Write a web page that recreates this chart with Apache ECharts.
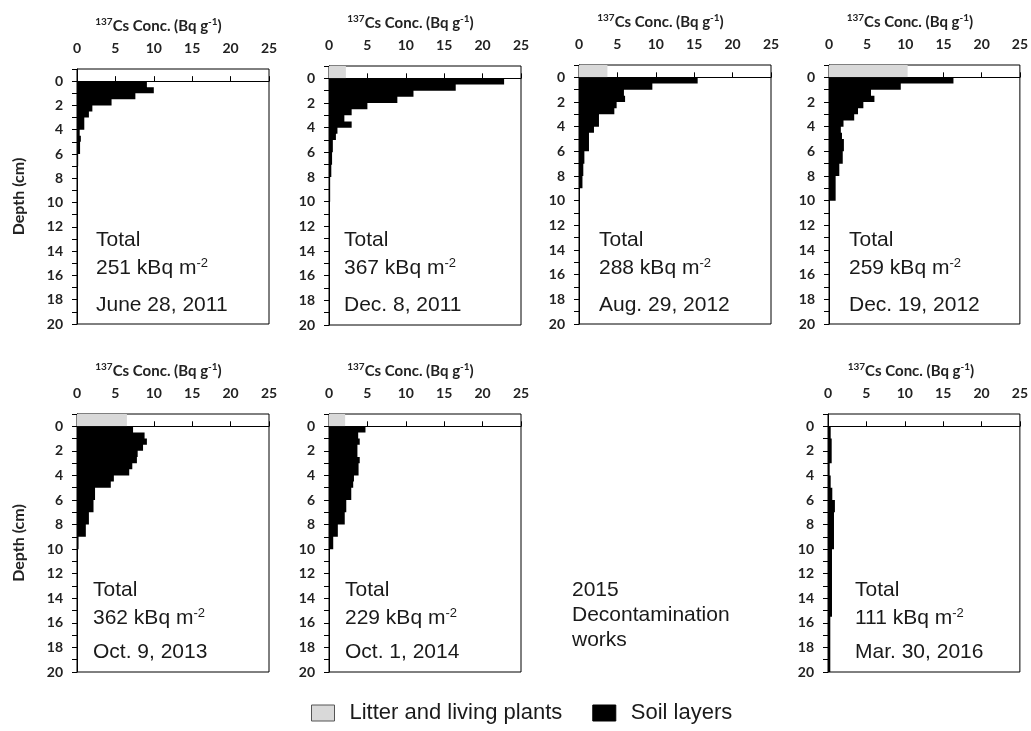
<!DOCTYPE html>
<html><head><meta charset="utf-8">
<script src="https://cdn.jsdelivr.net/npm/echarts@6/dist/echarts.min.js"></script>
<style>html,body{margin:0;padding:0;background:#fff;}#c{width:1031px;height:731px;}</style>
</head><body><div id="c"></div>
<script>
// ---------------- data ----------------
const panelDates  = ['June 28, 2011', 'Dec. 8, 2011', 'Aug. 29, 2012', 'Dec. 19, 2012', 'Oct. 9, 2013', 'Oct. 1, 2014', 'Mar. 30, 2016'];
const panelTotals = [251, 367, 288, 259, 362, 229, 111];           // kBq m-2
const litterConc  = [0, 2.2, 3.7, 10.3, 6.5, 2.1, 0];              // Bq g-1, layer -1..0 cm
// soil layers: [top depth (cm), bottom depth (cm), 137Cs conc (Bq g-1)]
const soilJun2011 = [[0,0.5,9.1],[0.5,1,10.0],[1,1.5,7.6],[1.5,2,4.5],[2,2.5,2.0],[2.5,3,1.55],[3,4,0.95],[4,4.5,0.35],[4.5,5,0.5],[5,6,0.4],[6,7,0.15],[7,10,0.1]];
const soilDec2011 = [[0,0.5,22.8],[0.5,1,16.5],[1,1.5,11.0],[1.5,2,8.9],[2,2.5,5.0],[2.5,3,2.95],[3,3.5,2.0],[3.5,4,2.95],[4,4.5,1.1],[4.5,5,0.9],[5,6,0.5],[6,7,0.4],[7,8,0.3],[8,10,0.15]];
const soilAug2012 = [[0,0.5,15.45],[0.5,1,9.55],[1,1.5,5.85],[1.5,2,6.0],[2,2.5,4.9],[2.5,3,4.6],[3,4,2.6],[4,4.5,1.95],[4.5,5,1.3],[5,6,1.3],[6,7,0.7],[7,8,0.56],[8,9,0.45]];
const soilDec2012 = [[0,0.5,16.3],[0.5,1,9.4],[1,1.5,5.5],[1.5,2,5.95],[2,2.5,4.5],[2.5,3,3.8],[3,3.5,3.3],[3.5,4,1.9],[4,4.5,1.55],[4.5,5,1.7],[5,6,1.95],[6,7,1.8],[7,8,1.35],[8,9,0.87],[9,10,0.87]];
const soilOct2013 = [[0,0.5,7.3],[0.5,1,8.8],[1,1.5,9.1],[1.5,2,8.6],[2,2.5,7.9],[2.5,3,7.8],[3,3.5,7.2],[3.5,4,6.8],[4,4.5,4.8],[4.5,5,4.4],[5,6,2.35],[6,7,2.15],[7,8,1.55],[8,9,1.15],[9,10,0.2]];
const soilOct2014 = [[0,0.5,4.75],[0.5,1,3.8],[1,1.5,4.0],[1.5,2,3.7],[2,2.5,3.7],[2.5,3,4.0],[3,3.5,3.85],[3.5,4,3.85],[4,4.5,3.25],[4.5,5,3.15],[5,6,2.9],[6,7,2.25],[7,8,2.05],[8,9,1.15],[9,10,0.55],[10,15,0.1]];
const soilMar2016 = [[0,1,0.35],[1,3,0.48],[3,4,0.22],[4,5,0.35],[5,6,0.56],[6,7,0.9],[7,10,0.78],[10,15.5,0.52],[15.5,20,0.3]];
const soilProfiles = [soilJun2011, soilDec2011, soilAug2012, soilDec2012, soilOct2013, soilOct2014, soilMar2016];
const concMin = 0, concMax = 25, concStep = 5;
const depthMin = -1, depthMax = 20, depthStep = 1, depthLabelStep = 2;
const noteLines = ['2015', 'Decontamination', 'works'];
const seriesNames = ['Litter and living plants', 'Soil layers'];

// ---------------- layout ----------------
const grids = [
  {left: 77,  top: 69, width: 192, height: 255},
  {left: 329, top: 66, width: 192, height: 259},
  {left: 579, top: 65, width: 192, height: 259},
  {left: 829, top: 65, width: 192, height: 259},
  {left: 77,  top: 414, width: 192, height: 258},
  {left: 329, top: 414, width: 192, height: 258},
  {left: 828, top: 414, width: 193, height: 258}
];
const textLeft = [96, 344, 599, 849, 93, 345, 855];
const textRowY = [[241, 268, 306], [591, 618, 653]];
const AX_FONT = 'Lato';
const TXT_FONT = 'Liberation Sans';
const AX_COLOR = '#222';

// draws the whole stepped depth profile (contiguous layers) as one polygon
function renderProfile(params, api) {
  if (params.dataIndexInside !== 0) return null;
  const n = params.dataInsideLength;
  const pts = [api.coord([0, api.value(0, 0)])];
  for (let k = 0; k < n; k++) {
    const t = api.value(0, k), b = api.value(1, k), v = api.value(2, k);
    pts.push(api.coord([v, t]));
    pts.push(api.coord([v, b]));
  }
  pts.push(api.coord([0, api.value(1, n - 1)]));
  return {type: 'polygon', shape: {points: pts}, style: {fill: api.visual('color')}};
}

const option = {
  animation: false,
  backgroundColor: '#fff',
  grid: [], xAxis: [], yAxis: [], series: [], graphic: [],
  legend: {
    left: 306, top: 697, itemWidth: 23, itemHeight: 16, itemGap: 30,
    textStyle: {fontFamily: TXT_FONT, fontSize: 22, color: '#1a1a1a', padding: [0, 0, 0, 10]},
    data: [
      {name: seriesNames[0], icon: 'rect', itemStyle: {color: '#d9d9d9', borderColor: '#555', borderWidth: 1}},
      {name: seriesNames[1], icon: 'rect', itemStyle: {color: '#000', borderColor: '#000', borderWidth: 1}}
    ]
  }
};

grids.forEach((g, i) => {
  option.grid.push(Object.assign({show: true, borderColor: '#000', borderWidth: 1, backgroundColor: 'transparent'}, g));
  option.xAxis.push({
    type: 'value', gridIndex: i, position: 'top', min: concMin, max: concMax, interval: concStep,
    name: '{s|137}{b|Cs Conc. (Bq g}{s|-1}{b|)}',
    nameLocation: 'middle', nameGap: 34,
    nameTextStyle: {
      padding: [0, i === 6 ? 26 : 29, 0, 0],
      rich: {
        b: {fontFamily: AX_FONT, fontWeight: 'bold', fontSize: 15, color: AX_COLOR, lineHeight: 18},
        s: {fontFamily: AX_FONT, fontWeight: 'bold', fontSize: 10, color: AX_COLOR, lineHeight: 11, verticalAlign: 'top'}
      }
    },
    axisLine: {show: true, lineStyle: {color: '#000', width: 1}},
    axisTick: {show: true, inside: false, length: 5, lineStyle: {color: '#000'}},
    axisLabel: {margin: 14, fontFamily: AX_FONT, fontWeight: 'bold', fontSize: 14, color: AX_COLOR},
    splitLine: {show: false, lineStyle: {color: 'rgba(0,0,0,0)'}}, splitArea: {show: false}, minorSplitLine: {show: false}
  });
  const showName = (i === 0 || i === 4);
  option.yAxis.push({
    type: 'value', gridIndex: i, inverse: true, min: depthMin, max: depthMax, interval: depthStep,
    name: showName ? 'Depth (cm)' : '',
    nameLocation: 'middle', nameRotate: 90, nameGap: 50,
    nameTextStyle: {fontFamily: AX_FONT, fontWeight: 'bold', fontSize: 16, color: AX_COLOR},
    axisLine: {show: true, lineStyle: {color: '#000', width: 1}},
    axisTick: {show: true, inside: false, length: 5, lineStyle: {color: '#000'}},
    axisLabel: {
      margin: 14, fontFamily: AX_FONT, fontWeight: 'bold', fontSize: 14, color: AX_COLOR,
      formatter: v => (v >= 0 && v % depthLabelStep === 0) ? String(v) : ''
    },
    splitLine: {show: false, lineStyle: {color: 'rgba(0,0,0,0)'}}, splitArea: {show: false}, minorSplitLine: {show: false}
  });
  if (litterConc[i] > 0) {
    option.series.push({
      type: 'custom', name: seriesNames[0], xAxisIndex: i, yAxisIndex: i, z: 10,
      renderItem: renderProfile, encode: {x: 2, y: [0, 1]},
      itemStyle: {color: '#d9d9d9'},
      data: [[depthMin, 0, litterConc[i]]]
    });
  }
  option.series.push({
    type: 'custom', name: seriesNames[1], xAxisIndex: i, yAxisIndex: i, z: 10,
    renderItem: renderProfile, encode: {x: 2, y: [0, 1]},
    itemStyle: {color: '#000'},
    data: soilProfiles[i]
  });
  const ys = textRowY[i < 4 ? 0 : 1];
  const rich = {
    t: {fontFamily: TXT_FONT, fontSize: 21, fill: '#1a1a1a', lineHeight: 22},
    s: {fontFamily: TXT_FONT, fontSize: 13, fill: '#1a1a1a', lineHeight: 15, verticalAlign: 'top'}
  };
  option.graphic.push(
    {type: 'text', left: textLeft[i], top: ys[0] - 11, style: {text: '{t|Total}', rich: rich}},
    {type: 'text', left: textLeft[i], top: ys[1] - 11, style: {text: '{t|' + panelTotals[i] + ' kBq m}{s|-2}', rich: rich}},
    {type: 'text', left: textLeft[i], top: ys[2] - 11, style: {text: '{t|' + panelDates[i] + '}', rich: rich}}
  );
});

noteLines.forEach((line, k) => {
  option.graphic.push({type: 'text', left: 572, top: 580 + k * 25,
    style: {text: line, fontFamily: TXT_FONT, fontSize: 21, fill: '#1a1a1a'}});
});

const chart = echarts.init(document.getElementById('c'), null, {renderer: 'canvas'});
chart.setOption(option);
</script></body></html>
